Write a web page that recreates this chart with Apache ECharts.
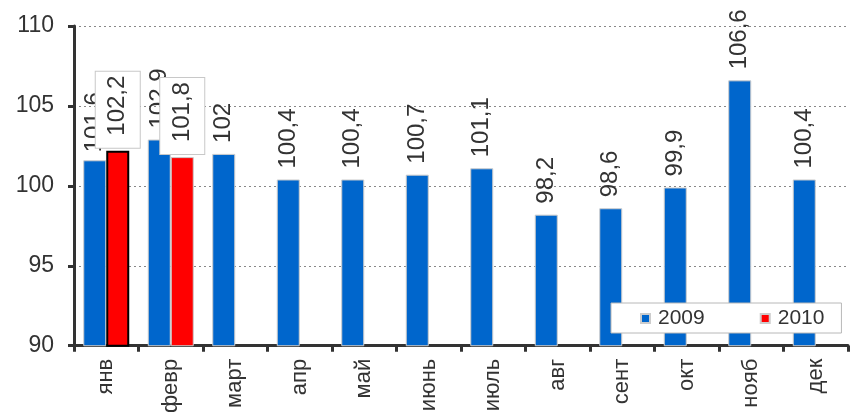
<!DOCTYPE html>
<html>
<head>
<meta charset="utf-8">
<script src="https://cdn.jsdelivr.net/npm/echarts@6/dist/echarts.min.js"></script>
<style>html,body{margin:0;padding:0;background:#fff}#c{width:850px;height:416px}</style>
</head>
<body>
<div id="c"></div>
<script>
const categories = ['янв','февр','март','апр','май','июнь','июль','авг','сент','окт','нояб','дек'];
const values2009 = [101.6, 102.9, 102, 100.4, 100.4, 100.7, 101.1, 98.2, 98.6, 99.9, 106.6, 100.4];
const values2010 = [102.2, 101.8, null, null, null, null, null, null, null, null, null, null];
const seriesNames = ['2009', '2010'];
const yTicks = [90, 95, 100, 105, 110];

const FONT = 'Liberation Sans, Arial, sans-serif';
const fmt = p => (p.value == null ? '' : String(p.value).replace('.', ','));

const chart = echarts.init(document.getElementById('c'), null, {renderer: 'canvas'});
chart.setOption({
  animation: false,
  backgroundColor: '#fff',
  grid: {left: 74, right: 2, top: 26, bottom: 67, containLabel: false},
  legend: {
    data: seriesNames,
    left: 611, top: 303,
    icon: 'rect', itemWidth: 9, itemHeight: 9, itemGap: 55,
    backgroundColor: '#fff', borderColor: '#b8b8b8', borderWidth: 1,
    padding: [5, 17, 4, 29],
    textStyle: {fontFamily: FONT, fontSize: 21, color: '#333', padding: [0, 0, 0, 3]}
  },
  xAxis: {
    type: 'category',
    data: categories,
    axisLine: {show: true, lineStyle: {color: '#333', width: 3}},
    axisTick: {show: true, length: 6, lineStyle: {color: '#333', width: 3}},
    axisLabel: {rotate: 90, margin: 13, fontFamily: FONT, fontSize: 22, color: '#333'}
  },
  yAxis: {
    type: 'value',
    min: yTicks[0], max: yTicks[yTicks.length - 1], interval: 5,
    axisLine: {show: true, lineStyle: {color: '#333', width: 3}},
    axisTick: {show: true, length: 6, lineStyle: {color: '#333', width: 3}},
    axisLabel: {margin: 20, fontFamily: FONT, fontSize: 23, color: '#333'},
    splitLine: {show: true, lineStyle: {color: '#888', type: [2, 3], width: 1}}
  },
  series: [
    {
      name: seriesNames[0],
      type: 'bar',
      data: values2009.map((v, i) => i === 0 ? {value: v, label: {offset: [-3, 0]}} : v),
      barWidth: 23,
      barGap: '0%',
      itemStyle: {color: '#0066CC', borderColor: '#cccccc', borderWidth: 1},
      label: {
        show: true, position: 'top', rotate: 90, align: 'left', verticalAlign: 'middle',
        distance: 11, formatter: fmt, fontFamily: FONT, fontSize: 24, color: '#333'
      }
    },
    {
      name: seriesNames[1],
      type: 'bar',
      data: values2010.map((v, i) => i === 0 ? {value: v, itemStyle: {borderColor: '#000', borderWidth: 2}} : v),
      barWidth: 23,
      itemStyle: {color: '#FF0000', borderColor: '#cccccc', borderWidth: 1},
      label: {
        show: true, position: 'top', rotate: 90, align: 'left', verticalAlign: 'middle',
        distance: 3, formatter: fmt, fontFamily: FONT, fontSize: 24, color: '#333',
        backgroundColor: '#fff', borderColor: '#c8c8c8', borderWidth: 1,
        padding: [10, 4, 10, 12]
      }
    }
  ]
});
</script>
</body>
</html>
